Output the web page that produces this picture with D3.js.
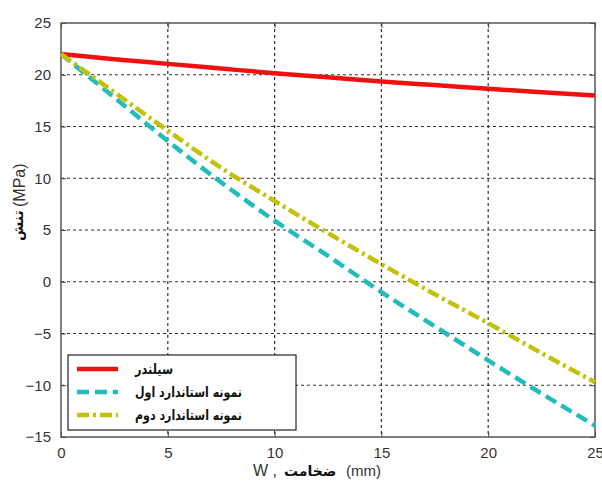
<!DOCTYPE html>
<html>
<head>
<meta charset="utf-8">
<script src="https://cdn.jsdelivr.net/npm/d3@7"></script>
<style>
  html, body { margin: 0; padding: 0; background: #fff; }
  svg { display: block; }
  .tick text { font-family: "Liberation Sans", Arial, sans-serif; font-size: 15px; fill: #333; }
</style>
</head>
<body>
<div id="chart"></div>
<script>
// thickness W (mm)
const thickness = [0, 2.5, 5, 7.5, 10, 12.5, 15, 17.5, 20, 22.5, 25];

// stress (MPa)
const cylinder  = [22, 21.5, 21.05, 20.6, 20.15, 19.75, 19.35, 19.0, 18.65, 18.3, 18.0];
const standard1 = [22, 17.8, 13.6, 9.6, 5.9, 2.5, -1.0, -4.3, -7.6, -10.8, -13.9];
const standard2 = [22, 18.3, 14.6, 11.0, 7.8, 4.7, 1.7, -1.2, -4.0, -6.9, -9.7];

const seriesNames = ["سیلندر", "نمونه استاندارد اول", "نمونه استاندارد دوم"];
const xTicks = [0, 5, 10, 15, 20, 25];
const yTicks = [-15, -10, -5, 0, 5, 10, 15, 20, 25];

const W = 602, H = 481;
const margin = { top: 23, right: 7, bottom: 44, left: 61 };
const width = W - margin.left - margin.right;
const height = H - margin.top - margin.bottom;

const styles = [
  { color: "#f01010", dash: null },
  { color: "#22bcbc", dash: "12 6" },
  { color: "#c2c20a", dash: "12 4 3 4" }
];

const svg = d3.select("#chart").append("svg")
  .attr("width", W)
  .attr("height", H);

const g = svg.append("g")
  .attr("transform", `translate(${margin.left},${margin.top})`);

const x = d3.scaleLinear().domain([0, 25]).range([0, width]);
const y = d3.scaleLinear().domain([-15, 25]).range([height, 0]);

// grid
g.append("g")
  .selectAll("line")
  .data(xTicks.slice(1, -1))
  .enter().append("line")
  .attr("x1", d => x(d)).attr("x2", d => x(d))
  .attr("y1", 0).attr("y2", height)
  .attr("stroke", "#333").attr("stroke-width", 1.2)
  .attr("stroke-dasharray", "3 3");

g.append("g")
  .selectAll("line")
  .data(yTicks.slice(1, -1))
  .enter().append("line")
  .attr("x1", 0).attr("x2", width)
  .attr("y1", d => y(d)).attr("y2", d => y(d))
  .attr("stroke", "#333").attr("stroke-width", 1.2)
  .attr("stroke-dasharray", "3 3");

// axes (ticks pointing inward, matlab style)
const xAxis = g.append("g")
  .attr("transform", `translate(0,${height})`)
  .call(d3.axisBottom(x).tickValues(xTicks).tickSize(-5).tickPadding(10).tickFormat(d3.format("d")));
const yAxis = g.append("g")
  .call(d3.axisLeft(y).tickValues(yTicks).tickSize(-5).tickPadding(10).tickFormat(d3.format("d")));
[xAxis, yAxis].forEach(a => {
  a.select(".domain").remove();
  a.selectAll(".tick line").attr("stroke", "#444");
});
g.append("g")
  .attr("transform", `translate(${width},0)`)
  .call(d3.axisRight(y).tickValues(yTicks).tickSize(-5).tickFormat(""))
  .call(a => a.select(".domain").remove())
  .selectAll(".tick line").attr("stroke", "#444");
g.append("g")
  .call(d3.axisTop(x).tickValues(xTicks).tickSize(-5).tickFormat(""))
  .call(a => a.select(".domain").remove())
  .selectAll(".tick line").attr("stroke", "#444");

g.append("rect")
  .attr("width", width).attr("height", height)
  .attr("fill", "none").attr("stroke", "#555").attr("stroke-width", 1.5);

// lines
const line = d3.line()
  .x((d, i) => x(thickness[i]))
  .y(d => y(d))
  .curve(d3.curveMonotoneX);

[cylinder, standard1, standard2].forEach((s, i) => {
  g.append("path")
    .datum(s)
    .attr("d", line)
    .attr("fill", "none")
    .attr("stroke", styles[i].color)
    .attr("stroke-width", 4.5)
    .attr("stroke-dasharray", styles[i].dash);
});

// legend
const legend = svg.append("g").attr("transform", "translate(68,355)");
legend.append("rect")
  .attr("width", 228).attr("height", 75)
  .attr("fill", "#fff").attr("stroke", "#222").attr("stroke-width", 1.2);

const legendTextLen = [38, 107, 107];
seriesNames.forEach((name, i) => {
  const ly = 14 + i * 23;
  legend.append("line")
    .attr("x1", 9).attr("x2", 50)
    .attr("y1", ly).attr("y2", ly)
    .attr("stroke", styles[i].color)
    .attr("stroke-width", 4.5)
    .attr("stroke-dasharray", styles[i].dash);
  legend.append("text")
    .attr("x", 67).attr("y", ly + 5)
    .attr("font-family", "DejaVu Sans, sans-serif")
    .attr("font-size", "14px")
    .attr("font-weight", "bold")
    .attr("fill", "#111")
    .attr("textLength", legendTextLen[i])
    .attr("lengthAdjust", "spacingAndGlyphs")
    .text(name);
});

// axis titles
const sans = "Liberation Sans, Arial, sans-serif";
svg.append("text")
  .attr("x", 253).attr("y", 476)
  .attr("font-family", sans).attr("font-size", "16px").attr("fill", "#333")
  .text("W ,");
svg.append("text")
  .attr("x", 284).attr("y", 476)
  .attr("font-family", "DejaVu Sans, sans-serif").attr("font-size", "14px")
  .attr("font-weight", "bold").attr("fill", "#111")
  .text("ضخامت");
svg.append("text")
  .attr("x", 346).attr("y", 476)
  .attr("font-family", sans).attr("font-size", "15px").attr("fill", "#333")
  .text("(mm)");

svg.append("text")
  .attr("transform", "translate(23,241) rotate(-90)")
  .attr("font-family", "DejaVu Sans, sans-serif").attr("font-size", "14px")
  .attr("font-weight", "bold").attr("fill", "#111")
  .text("تنش");
svg.append("text")
  .attr("transform", "translate(25,207) rotate(-90)")
  .attr("font-family", sans).attr("font-size", "16px").attr("fill", "#333")
  .text("(MPa)");
</script>
</body>
</html>
